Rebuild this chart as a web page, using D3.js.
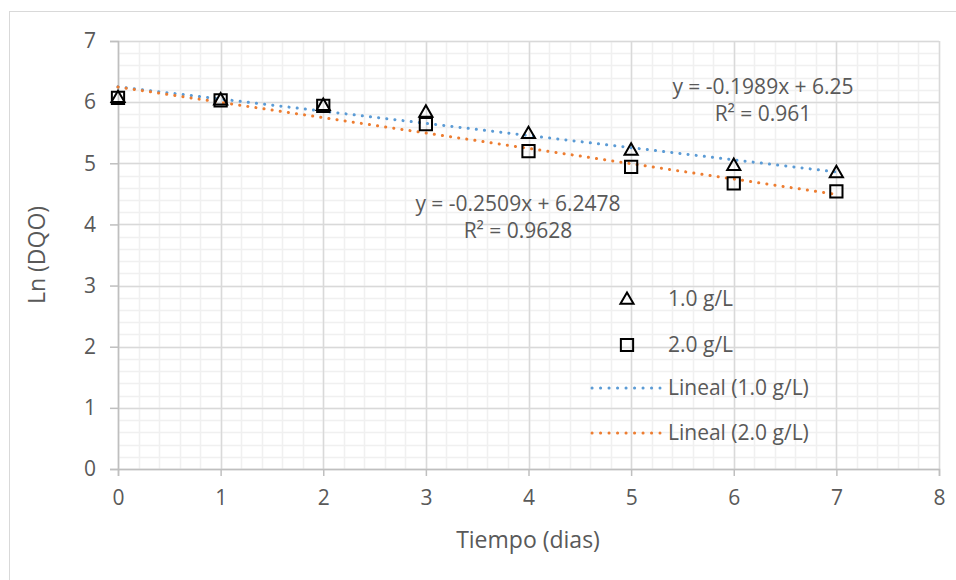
<!DOCTYPE html>
<html>
<head>
<meta charset="utf-8">
<script src="https://cdn.jsdelivr.net/npm/d3@7"></script>
<style>
  body { margin: 0; background: #fff; }
  text { font-family: "Open Sans", "Noto Sans", sans-serif; fill: #595959; }
</style>
</head>
<body>
<div id="chart"></div>
<script>
// data
var days = [0, 1, 2, 3, 4, 5, 6, 7];
var ln1 = [6.08, 6.04, 5.95, 5.84, 5.49, 5.22, 4.97, 4.85];   // 1.0 g/L
var ln2 = [6.07, 6.03, 5.94, 5.64, 5.20, 4.94, 4.67, 4.54];   // 2.0 g/L
var fit1 = { slope: -0.1989, icpt: 6.25 };
var fit2 = { slope: -0.2509, icpt: 6.2478 };
var xTicks = [0, 1, 2, 3, 4, 5, 6, 7, 8];
var yTicks = [0, 1, 2, 3, 4, 5, 6, 7];
var seriesNames = ["1.0 g/L", "2.0 g/L", "Lineal (1.0 g/L)", "Lineal (2.0 g/L)"];

var svgWidth = 956;
var svgHeight = 580;

var margin = { top: 41, right: 17, bottom: 111, left: 118 };
var width = svgWidth - margin.left - margin.right;
var height = svgHeight - margin.top - margin.bottom;

var blue = "#5B9BD5";
var orange = "#ED7D31";

var svg = d3.select("#chart")
  .append("svg")
  .attr("width", svgWidth)
  .attr("height", svgHeight);

// chart area border
svg.append("rect")
  .attr("x", 9.5)
  .attr("y", 11.5)
  .attr("width", svgWidth)
  .attr("height", svgHeight)
  .attr("fill", "none")
  .attr("stroke", "#D9D9D9");

var chartGroup = svg.append("g")
  .attr("transform", `translate(${margin.left}, ${margin.top})`);

var x = d3.scaleLinear().domain([0, 8]).range([0, width]);
var y = d3.scaleLinear().domain([0, 7]).range([height, 0]);

// minor gridlines
var minorX = d3.range(0, 8.001, 0.2);
var minorY = d3.range(0, 7.001, 0.2);
chartGroup.append("g").selectAll("line")
  .data(minorX)
  .enter()
  .append("line")
  .attr("x1", d => Math.round(x(d)) + 0.5)
  .attr("x2", d => Math.round(x(d)) + 0.5)
  .attr("y1", 0)
  .attr("y2", height)
  .attr("stroke", "#F0F0F0")
  .attr("stroke-width", 1.5);
chartGroup.append("g").selectAll("line")
  .data(minorY)
  .enter()
  .append("line")
  .attr("y1", d => Math.round(y(d)) + 0.5)
  .attr("y2", d => Math.round(y(d)) + 0.5)
  .attr("x1", 0)
  .attr("x2", width)
  .attr("stroke", "#F0F0F0")
  .attr("stroke-width", 1.5);

// major gridlines
chartGroup.append("g").selectAll("line")
  .data(xTicks)
  .enter()
  .append("line")
  .attr("x1", d => Math.round(x(d)) + 0.5)
  .attr("x2", d => Math.round(x(d)) + 0.5)
  .attr("y1", 0)
  .attr("y2", height)
  .attr("stroke", "#D9D9D9")
  .attr("stroke-width", 1.5);
chartGroup.append("g").selectAll("line")
  .data(yTicks)
  .enter()
  .append("line")
  .attr("y1", d => Math.round(y(d)) + 0.5)
  .attr("y2", d => Math.round(y(d)) + 0.5)
  .attr("x1", 0)
  .attr("x2", width)
  .attr("stroke", "#D9D9D9")
  .attr("stroke-width", 1.5);

// axes
var bottomAxis = d3.axisBottom(x).tickValues(xTicks).tickFormat(d3.format("d"))
  .tickSize(7).tickPadding(14);
var leftAxis = d3.axisLeft(y).tickValues(yTicks).tickFormat(d3.format("d"))
  .tickSize(8).tickPadding(14);

var xAxis = chartGroup.append("g")
  .attr("transform", `translate(0, ${height})`)
  .call(bottomAxis);
var yAxis = chartGroup.append("g")
  .call(leftAxis);

[xAxis, yAxis].forEach(function(ax) {
  ax.select(".domain").attr("stroke", "#BFBFBF").attr("stroke-width", 1.5);
  ax.selectAll(".tick line").attr("stroke", "#BFBFBF").attr("stroke-width", 1.5);
  ax.selectAll(".tick text")
    .attr("fill", "#595959")
    .style("font-size", "21px")
    .style("font-family", "'Open Sans', sans-serif");
});

// trend lines
function trend(fit) {
  return days.map(d => [d, fit.slope * d + fit.icpt]);
}
var line = d3.line().x(d => x(d[0])).y(d => y(d[1]));

chartGroup.append("path")
  .datum(trend(fit1))
  .attr("d", line)
  .attr("fill", "none")
  .attr("stroke", blue)
  .attr("stroke-width", 3)
  .attr("stroke-linecap", "round")
  .attr("stroke-dasharray", "0.1 8.1");
chartGroup.append("path")
  .datum(trend(fit2))
  .attr("d", line)
  .attr("fill", "none")
  .attr("stroke", orange)
  .attr("stroke-width", 3)
  .attr("stroke-linecap", "round")
  .attr("stroke-dasharray", "0.1 8.1");

// markers
var triangle = d3.symbol().type(d3.symbolTriangle).size(75);
var square = d3.symbol().type(d3.symbolSquare).size(150);

chartGroup.append("g").selectAll("path")
  .data(days)
  .enter()
  .append("path")
  .attr("d", square)
  .attr("transform", (d, i) => `translate(${x(d)}, ${y(ln2[i])})`)
  .attr("fill", "none")
  .attr("stroke", "#000")
  .attr("stroke-width", 2);

chartGroup.append("g").selectAll("path")
  .data(days)
  .enter()
  .append("path")
  .attr("d", triangle)
  .attr("transform", (d, i) => `translate(${x(d)}, ${y(ln1[i]) + 1})`)
  .attr("fill", "none")
  .attr("stroke", "#000")
  .attr("stroke-width", 2);

// trend line equations
var eqs = [
  { fit: fit1, r2: "0.961", cx: 763, cy: 87 },
  { fit: fit2, r2: "0.9628", cx: 518, cy: 204 }
];
eqs.forEach(function(e) {
  var t = svg.append("text")
    .attr("text-anchor", "middle")
    .style("font-size", "21px");
  t.append("tspan")
    .attr("x", e.cx)
    .attr("y", e.cy + 7)
    .text(`y = ${e.fit.slope}x + ${e.fit.icpt}`);
  t.append("tspan")
    .attr("x", e.cx)
    .attr("y", e.cy + 34)
    .text(`R² = ${e.r2}`);
});

// legend
var legend = svg.append("g");
var legY = [299, 345, 388, 433];

legend.append("path")
  .attr("d", triangle)
  .attr("transform", `translate(627, ${legY[0] + 1})`)
  .attr("fill", "none")
  .attr("stroke", "#000")
  .attr("stroke-width", 2);
legend.append("path")
  .attr("d", square)
  .attr("transform", `translate(627, ${legY[1]})`)
  .attr("fill", "none")
  .attr("stroke", "#000")
  .attr("stroke-width", 2);
[blue, orange].forEach(function(c, i) {
  legend.append("line")
    .attr("x1", 592)
    .attr("x2", 660)
    .attr("y1", legY[2 + i])
    .attr("y2", legY[2 + i])
    .attr("stroke", c)
    .attr("stroke-width", 3)
    .attr("stroke-linecap", "round")
    .attr("stroke-dasharray", "0.1 8.4");
});
legend.selectAll("text.leg")
  .data(seriesNames)
  .enter()
  .append("text")
  .attr("class", "leg")
  .attr("x", 668)
  .attr("y", (d, i) => legY[i] + 7)
  .style("font-size", "21px")
  .text(d => d);

// axis titles
svg.append("text")
  .attr("x", 528)
  .attr("y", 548)
  .attr("text-anchor", "middle")
  .style("font-size", "23px")
  .text("Tiempo (dias)");

svg.append("text")
  .attr("transform", "translate(45, 255) rotate(-90)")
  .attr("text-anchor", "middle")
  .style("font-size", "23px")
  .text("Ln (DQO)");
</script>
</body>
</html>
